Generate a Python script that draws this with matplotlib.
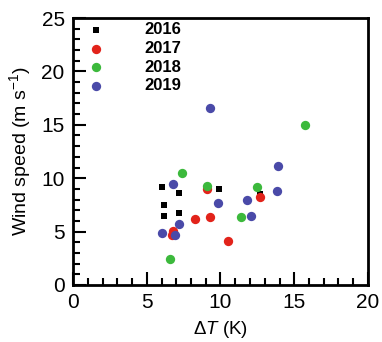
import matplotlib
matplotlib.use("Agg")
import matplotlib.pyplot as plt
from matplotlib.ticker import MultipleLocator

plt.rcParams['font.family'] = ['Liberation Sans', 'DejaVu Sans']
plt.rcParams['mathtext.fontset'] = 'custom'
plt.rcParams['mathtext.rm'] = 'Liberation Sans'
plt.rcParams['mathtext.it'] = 'Liberation Sans:italic'

# data
x2016 = [6.0, 6.2, 6.2, 7.2, 7.2, 9.9, 12.7]
y2016 = [9.2, 7.5, 6.5, 8.6, 6.7, 9.0, 8.5]
x2017 = [6.7, 6.8, 8.3, 9.1, 9.3, 10.5, 12.7]
y2017 = [4.7, 5.05, 6.2, 9.0, 6.4, 4.1, 8.2]
x2018 = [6.6, 7.4, 9.1, 11.4, 12.5, 15.7]
y2018 = [2.4, 10.5, 9.3, 6.4, 9.2, 15.0]
x2019 = [6.0, 6.8, 6.9, 7.2, 9.3, 9.8, 11.8, 12.1, 13.8, 13.9]
y2019 = [4.9, 9.5, 4.7, 5.7, 16.6, 7.7, 8.0, 6.5, 8.8, 11.1]

fig = plt.figure(figsize=(3.82, 3.42), dpi=100)
ax = fig.add_axes([73/382, 1 - 285/342, 295/382, 267/342])

ax.scatter(x2016, y2016, marker='s', s=18, color='black', linewidths=0, label='2016', zorder=3)
ax.scatter(x2017, y2017, marker='o', s=45, color='#e2231a', linewidths=0, label='2017', zorder=3)
ax.scatter(x2018, y2018, marker='o', s=45, color='#3cb93c', linewidths=0, label='2018', zorder=3)
ax.scatter(x2019, y2019, marker='o', s=45, color='#4a4aa8', linewidths=0, label='2019', zorder=3)

ax.set_xlim(0, 20)
ax.set_ylim(0, 25)
ax.xaxis.set_major_locator(MultipleLocator(5))
ax.xaxis.set_minor_locator(MultipleLocator(1))
ax.yaxis.set_major_locator(MultipleLocator(5))
ax.yaxis.set_minor_locator(MultipleLocator(1))
ax.tick_params(which='both', direction='in', top=False, right=False, width=1.5)
ax.tick_params(which='major', length=9.5, labelsize=15, pad=6)
ax.tick_params(which='minor', length=5)
for sp in ax.spines.values():
    sp.set_linewidth(2)

ax.set_xlabel(r'$\Delta\mathit{T}$ (K)', fontsize=13.5, labelpad=5)
ax.set_ylabel('Wind speed (m s$^{-1}$)', fontsize=14, labelpad=6)

leg = ax.legend(loc='upper left', frameon=False, prop={'weight': 'bold', 'size': 12},
                handletextpad=2.4, labelspacing=0.22, borderaxespad=0.1,
                handlelength=1.0, bbox_to_anchor=(0.02, 1.015))

fig.savefig('out.png', dpi=100)
